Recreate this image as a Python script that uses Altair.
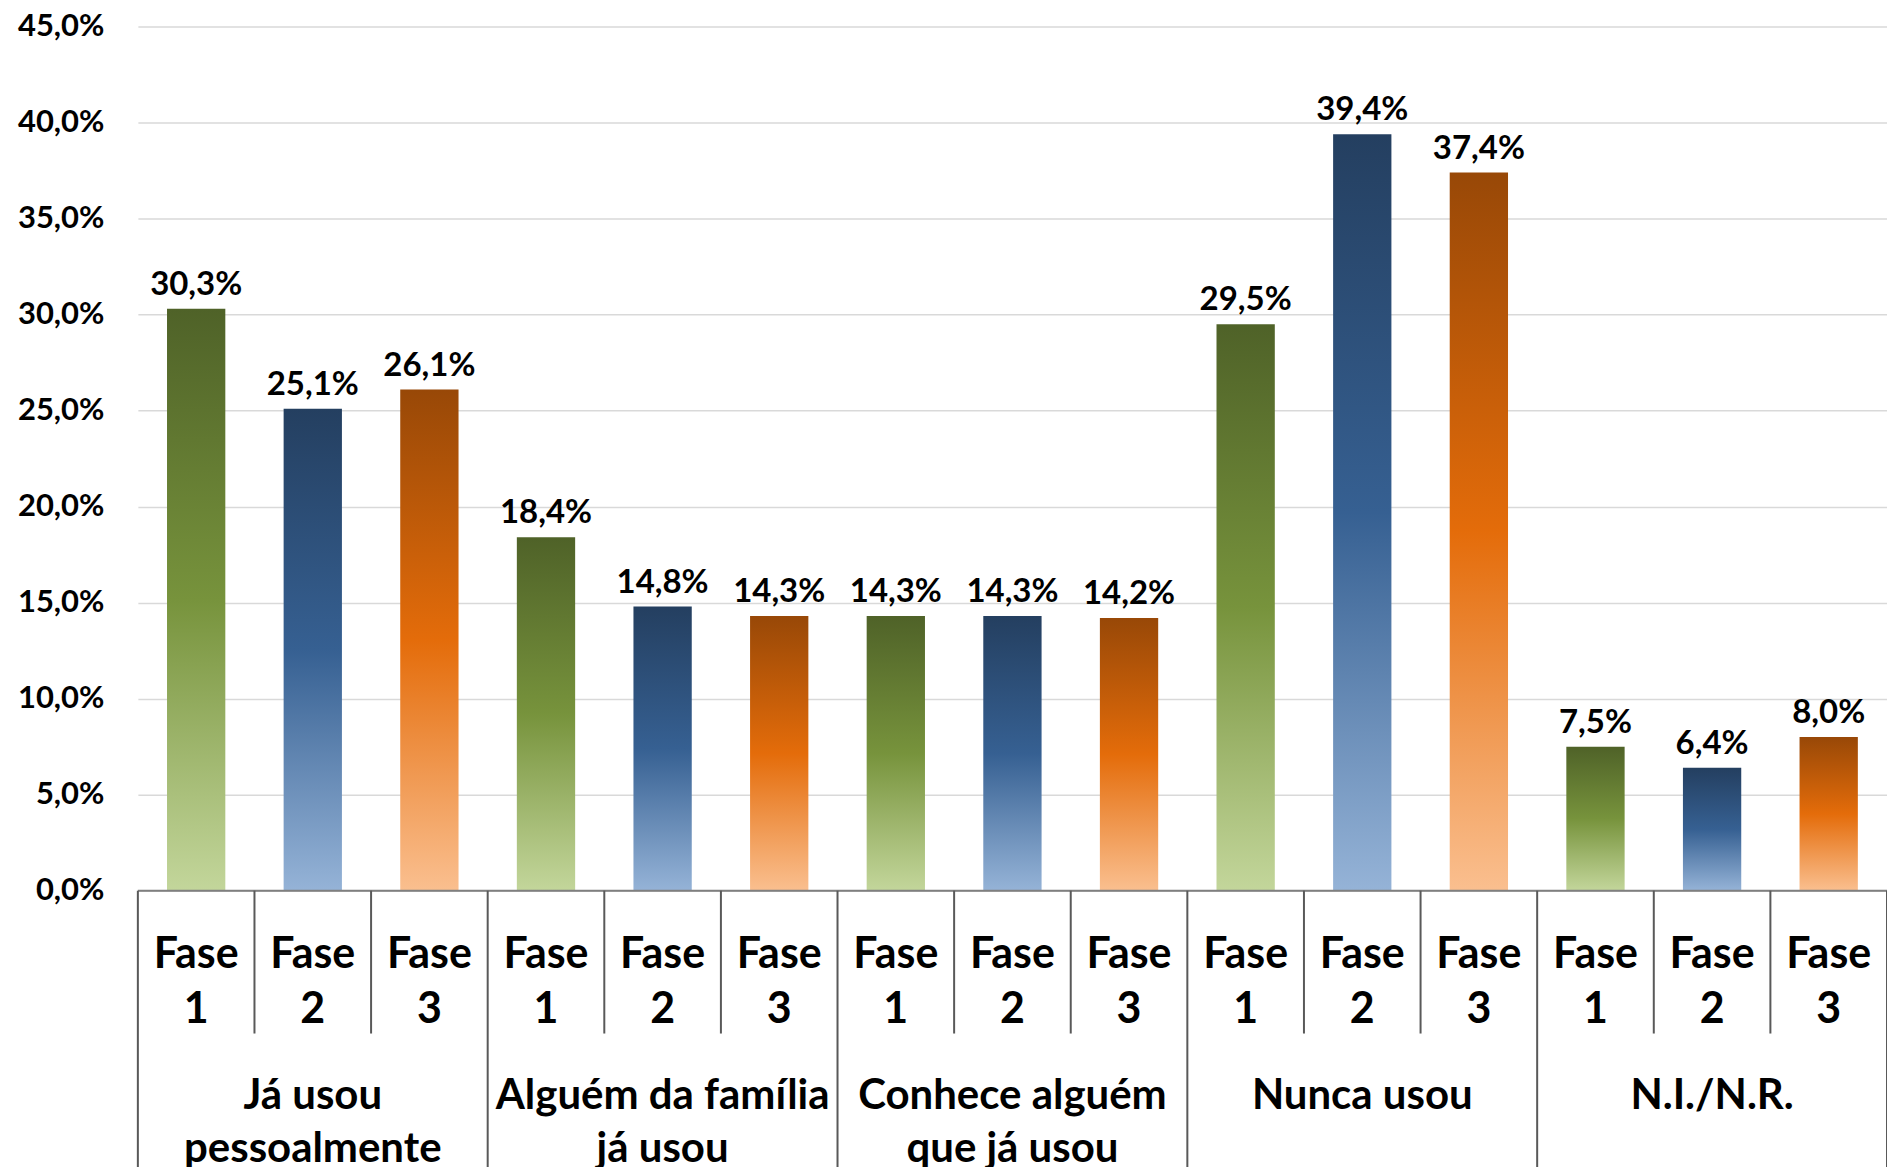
import altair as alt
import pandas as pd

# ---- data ----
groups = [["Já usou", "pessoalmente"], ["Alguém da família", "já usou"],
          ["Conhece alguém", "que já usou"], ["Nunca usou"], ["N.I./N.R."]]
phases = ["Fase 1", "Fase 2", "Fase 3"]
fase1 = [30.3, 18.4, 14.3, 29.5, 7.5]
fase2 = [25.1, 14.8, 14.3, 39.4, 6.4]
fase3 = [26.1, 14.3, 14.2, 37.4, 8.0]
y_ticks = [0, 5, 10, 15, 20, 25, 30, 35, 40, 45]

series = [fase1, fase2, fase3]
rows = []
for g in range(len(groups)):
    for p in range(len(phases)):
        slot = g * len(phases) + p
        v = series[p][g]
        rows.append({
            "phase": phases[p],
            "x0": slot + 0.25, "x1": slot + 0.75, "xc": slot + 0.5,
            "value": v, "base": 0,
            "label": f"{v:.1f}".replace(".", ",") + "%",
            "tick": phases[p].split(" "),
        })
df = pd.DataFrame(rows)
n_slots = len(groups) * len(phases)

seps = pd.DataFrame({"b": list(range(n_slots + 1))})
seps["group_sep"] = seps["b"] % len(phases) == 0
glabels = pd.DataFrame({"xc": [g * 3 + 1.5 for g in range(len(groups))],
                        "text": groups})

FONT = "Lato"
xscale = alt.Scale(domain=[0, n_slots], nice=False, zero=False)
yscale = alt.Scale(domain=[0, 45], nice=False)

def grad(top, mid, bot):
    return alt.Gradient(gradient="linear",
                        stops=[alt.GradientStop(offset=0, color=top),
                               alt.GradientStop(offset=0.5, color=mid),
                               alt.GradientStop(offset=1, color=bot)],
                        x1=0, x2=0, y1=0, y2=1)

grads = {
    "Fase 1": grad("#4f6228", "#77933c", "#c3d69b"),
    "Fase 2": grad("#243f60", "#366092", "#95b3d7"),
    "Fase 3": grad("#984807", "#e46c0a", "#fabf8f"),
}

base = alt.Chart(df)
yaxis = alt.Axis(values=y_ticks,
                 labelExpr="replace(format(datum.value, '.1f'), '.', ',') + '%'",
                 labelFont=FONT, labelFontSize=31, labelFontWeight="bold",
                 labelColor="black", labelPadding=34, ticks=False,
                 domain=False, gridColor="#d9d9d9", gridWidth=1.5, title=None)

def Y(field):
    return alt.Y(field, scale=yscale, axis=yaxis)

layers = []
for i, ph in enumerate(phases):
    layers.append(
        base.transform_filter(alt.datum.phase == ph)
        .mark_rect(color=grads[ph])
        .encode(x=alt.X("x0:Q", scale=xscale, axis=None), x2="x1:Q",
                y=Y("value:Q"), y2="base:Q")
    )

labels = base.mark_text(font=FONT, fontSize=33, fontWeight="bold", color="black",
                        baseline="alphabetic", dy=-14).encode(
    x=alt.X("xc:Q", scale=xscale, axis=None), y=Y("value:Q"), text="label:N")

baseline = alt.Chart(pd.DataFrame({"a": [0], "b": [n_slots], "z": [0]})).mark_rule(
    color="#7f7f7f", strokeWidth=2).encode(
    x=alt.X("a:Q", scale=xscale, axis=None), x2="b:Q", y=Y("z:Q"))

phase_seps = alt.Chart(seps).transform_filter("!datum.group_sep").mark_rule(
    color="#595959", strokeWidth=2).encode(
    x=alt.X("b:Q", scale=xscale, axis=None), y=alt.value(865), y2=alt.value(1008))
group_seps = alt.Chart(seps).transform_filter("datum.group_sep").mark_rule(
    color="#595959", strokeWidth=2).encode(
    x=alt.X("b:Q", scale=xscale, axis=None), y=alt.value(865), y2=alt.value(1160))

ticks_txt = base.mark_text(font=FONT, fontSize=43, fontWeight="bold", color="black",
                           baseline="alphabetic", lineHeight=55).encode(
    x=alt.X("xc:Q", scale=xscale, axis=None), y=alt.value(942), text="tick")

group_txt = alt.Chart(glabels).mark_text(font=FONT, fontSize=42, fontWeight="bold",
                                         color="black", baseline="alphabetic",
                                         lineHeight=53).encode(
    x=alt.X("xc:Q", scale=xscale, axis=None), y=alt.value(1084), text="text")

chart = alt.layer(*layers, labels, baseline, phase_seps, group_seps, ticks_txt,
                  group_txt).properties(
    width=1751, height=865,
    autosize=alt.AutoSizeParams(type="none"),
    padding={"left": 130, "top": 18, "right": 0, "bottom": 276},
    background="white",
).configure_view(stroke=None)

chart.save("out.html", embed_options={"renderer": "svg", "actions": False})
